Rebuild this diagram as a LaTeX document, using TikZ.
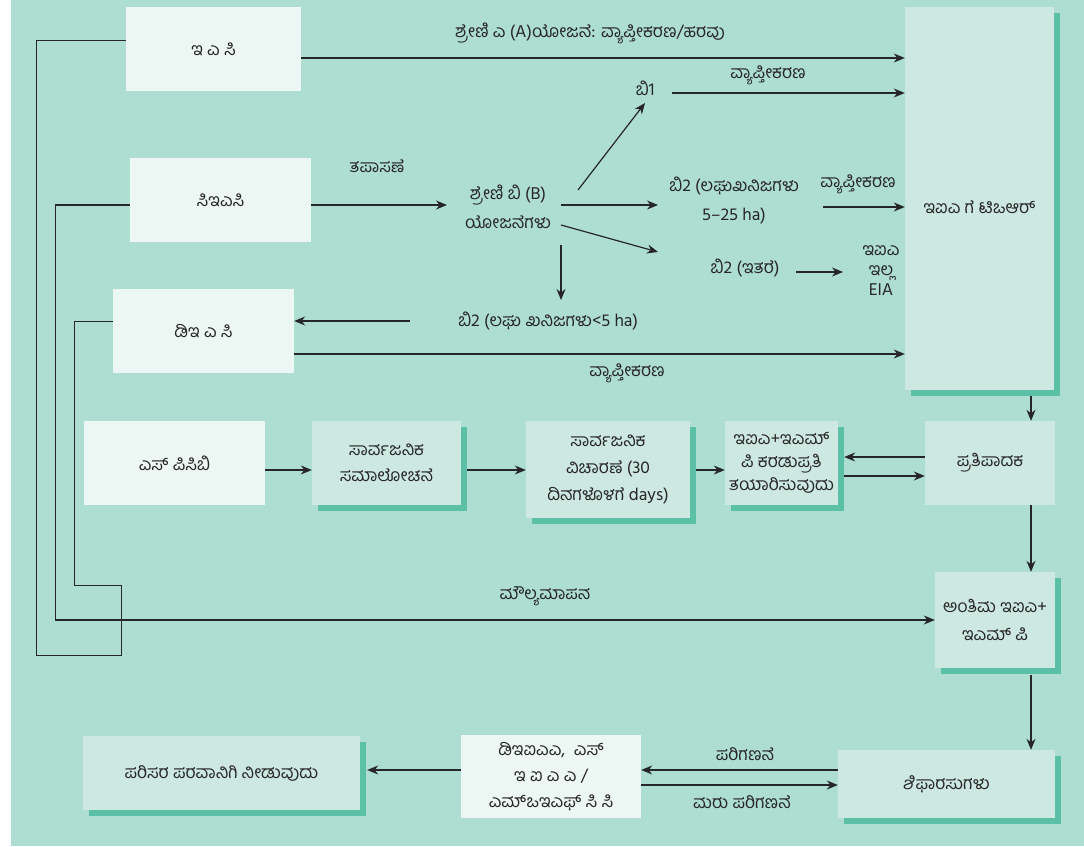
\documentclass[tikz,border=0pt]{standalone}
\usepackage{fontspec}
\setmainfont[Script=Kannada]{Hind Mysuru}
\usetikzlibrary{arrows.meta,shadows}

\definecolor{bgteal}{HTML}{AEDDD1}
\definecolor{paleteal}{HTML}{ECF6F2}
\definecolor{midteal}{HTML}{CDE8E0}
\definecolor{shadeteal}{HTML}{5BC0A6}
\definecolor{inkgrey}{HTML}{262626}

\tikzset{
  txt/.style={text=inkgrey, align=center, inner sep=1pt, font=\fontsize{17.5}{24}\selectfont},
  leading/.style={font=\fontsize{17.5}{#1}\selectfont},
  pale/.style={txt, fill=paleteal},
  flat/.style={txt, fill=midteal},
  raised/.style={txt, fill=midteal,
    general shadow={fill=shadeteal, shadow xshift=6pt, shadow yshift=-6pt}},
  arr/.style={draw=inkgrey, line width=1.2pt, -{Stealth[length=11pt,width=9pt]}},
  wire/.style={draw=inkgrey, line width=0.9pt}
}

\begin{document}
\begin{tikzpicture}[x=1pt,y=-1pt]
    \useasboundingbox (0,0) rectangle (1084,846);
    \fill[bgteal] (11,0) rectangle (1084,846);

    % boxes
    \node[pale, minimum width=175pt, minimum height=84pt] (eac) at (213.5,49) {ಇ ಎ ಸಿ};
    \node[pale, minimum width=181pt, minimum height=84pt] (seac) at (220.5,200) {ಸಿಇಎಸಿ};
    \node[pale, minimum width=181pt, minimum height=84pt] (deac) at (203.5,331) {ಡಿಇ ಎ ಸಿ};
    \node[pale, minimum width=181pt, minimum height=84pt] (spcb) at (174.5,463) {ಎಸ್ ಪಿಸಿಬಿ};
    \node[raised, minimum width=149pt, minimum height=84pt, leading=26] (pubcons) at (386.5,463) {ಸಾರ್ವಜನಿಕ\\ಸಮಾಲೋಚನೆ};
    \node[raised, minimum width=164pt, minimum height=97pt, leading=27] (hearing) at (608,469.5) {ಸಾರ್ವಜನಿಕ\\ವಿಚಾರಣೆ (30\\ದಿನಗಳೊಳಗೆ days)};
    \node[raised, minimum width=113pt, minimum height=84pt, leading=23] (draft) at (781.5,463) {ಇಐಎ+ಇಎಮ್\\ಪಿ ಕರಡುಪ್ರತಿ\\ತಯಾರಿಸುವುದು};
    \node[flat, minimum width=130pt, minimum height=84pt] (proponent) at (990,463) {ಪ್ರತಿಪಾದಕ};
    \node[raised, minimum width=149pt, minimum height=383pt, text height=35pt, text depth=5pt] (tor) at (979.5,198.5) {ಇಐಎ ಗೆ ಟಿಒಆರ್};
    \node[raised, minimum width=120pt, minimum height=96pt, leading=28] (final) at (995,620) {ಅಂತಿಮ ಇಐಎ+\\ಇಎಮ್ ಪಿ};
    \node[raised, minimum width=217pt, minimum height=68pt] (recom) at (946.5,784) {ಶಿಫಾರಸುಗಳು};
    \node[pale, minimum width=180pt, minimum height=83pt, leading=26] (deiaa) at (551,776.5) {ಡಿಇಐಎಎ,\ \ ಎಸ್\\ಇ ಐ ಎ ಎ /\\ಎಮ್ಒಇಎಫ್ ಸಿ ಸಿ};
    \node[raised, minimum width=277pt, minimum height=74pt] (clearance) at (221.5,773) {ಪರಿಸರ ಪರವಾನಿಗಿ ನೀಡುವುದು};

    % free labels
    \node[txt] (catA) at (590,33) {ಶ್ರೇಣಿ ಎ (A)ಯೋಜನೆ: ವ್ಯಾಪ್ತೀಕರಣ/ಹರವು};
    \node[txt] (b1) at (645,88) {ಬಿ1};
    \node[txt] (scopeb1) at (768,75) {ವ್ಯಾಪ್ತೀಕರಣ};
    \node[txt] (screen) at (377,166) {ತಪಾಸಣೆ};
    \node[txt, leading=29] (catB) at (508,207) {ಶ್ರೇಣಿ ಬಿ (B)\\ಯೋಜನೆಗಳು};
    \node[txt, leading=29] (b2a) at (734,200) {ಬಿ2 (ಲಘುಖನಿಜಗಳು\\5–25 ha)};
    \node[txt] (scopeb2) at (858,184) {ವ್ಯಾಪ್ತೀಕರಣ};
    \node[txt] (b2b) at (745,268) {ಬಿ2 (ಇತರೆ)};
    \node[txt, leading=20] (noeia) at (881,271) {ಇಐಎ\\ಇಲ್ಲ\\EIA};
    \node[txt] (b2c) at (548,321) {ಬಿ2 (ಲಘು ಖನಿಜಗಳು<5 ha)};
    \node[txt] (scopedeac) at (627,373) {ವ್ಯಾಪ್ತೀಕರಣ};
    \node[txt] (appraise) at (545,596) {ಮೌಲ್ಯಮಾಪನ};
    \node[txt] (consider) at (745,754) {ಪರಿಗಣನೆ};
    \node[txt] (reconsider) at (742,802) {ಮರು ಪರಿಗಣನೆ};

    % arrow start points
    \coordinate (b1out) at ([shift={(27,5)}]b1.center);
    \coordinate (b2aout) at ([shift={(89,7)}]b2a.center);
    \coordinate (pcout) at ([xshift=6pt,yshift=-7pt]pubcons.east);
    \coordinate (hrout) at ([xshift=6pt,yshift=-0.5pt]hearing.east);
    \coordinate (drout) at ([xshift=6pt,yshift=-13pt]draft.east);
    \coordinate (torout) at ([xshift=51.5pt,yshift=-6pt]tor.south);
    \coordinate (prout) at ([xshift=41pt]proponent.south);
    \coordinate (fnout) at ([xshift=36pt,yshift=-7pt]final.south);

    % top block
    \draw[arr] ([yshift=-9pt]eac.east) -- ([yshift=-9pt]eac.east -| tor.west);
    \draw[arr] (b1out) -- (b1out -| tor.west);
    \draw[arr] ([yshift=-5pt]seac.east) -- ([shift={(-61,-2)}]catB.center);
    \draw[arr] ([shift={(70,-17)}]catB.center) -- ([shift={(0,15)}]b1.center);
    \draw[arr] ([shift={(53,-2)}]catB.center) -- ([shift={(-76,5)}]b2a.center);
    \draw[arr] ([shift={(53,18)}]catB.center) -- ([shift={(-87,-16)}]b2b.center);
    \draw[arr] ([shift={(53,38)}]catB.center) -- ([shift={(13,-21)}]b2c.center);
    \draw[arr] (b2aout) -- (b2aout -| tor.west);
    \draw[arr] ([shift={(51,4)}]b2b.center) -- ([shift={(-38,1)}]noeia.center);
    \draw[arr] ([shift={(-138,0)}]b2c.center) -- ([yshift=10pt]deac.east);
    \draw[arr] ([yshift=-23pt]deac.east) -- ([yshift=-23pt]deac.east -| tor.west);

    % middle row
    \draw[arr] ([yshift=-7pt]spcb.east) -- ([yshift=-7pt]spcb.east -| pubcons.west);
    \draw[arr] (pcout) -- (pcout -| hearing.west);
    \draw[arr] (hrout) -- (hrout -| draft.west);
    \draw[arr] ([yshift=6pt]proponent.west) -- ([xshift=6pt,yshift=6pt]draft.east);
    \draw[arr] (drout) -- (drout -| proponent.west);

    % right column and bottom row
    \draw[arr] (torout) -- (torout |- proponent.north);
    \draw[arr] (prout) -- (prout |- final.north);
    \draw[arr] (fnout) -- (fnout |- recom.north);
    \draw[arr] ([yshift=14pt]recom.west) -- ([yshift=14pt]recom.west -| deiaa.east);
    \draw[arr] ([yshift=-8.5pt]deiaa.east) -- ([yshift=-8.5pt]deiaa.east -| recom.west);
    \draw[arr] ([yshift=6.5pt]deiaa.west) -- ([xshift=7pt,yshift=3pt]clearance.east);

    % left loops
    \draw[wire] ([yshift=9pt]eac.west) -- ++(-89,0) |- (121,655) -- (121,585) -- (74,585) |- ([yshift=10pt]deac.west);
    \draw[arr] ([yshift=-5pt]seac.west) -- ++(-74,0) |- (final.west);
\end{tikzpicture}
\end{document}
